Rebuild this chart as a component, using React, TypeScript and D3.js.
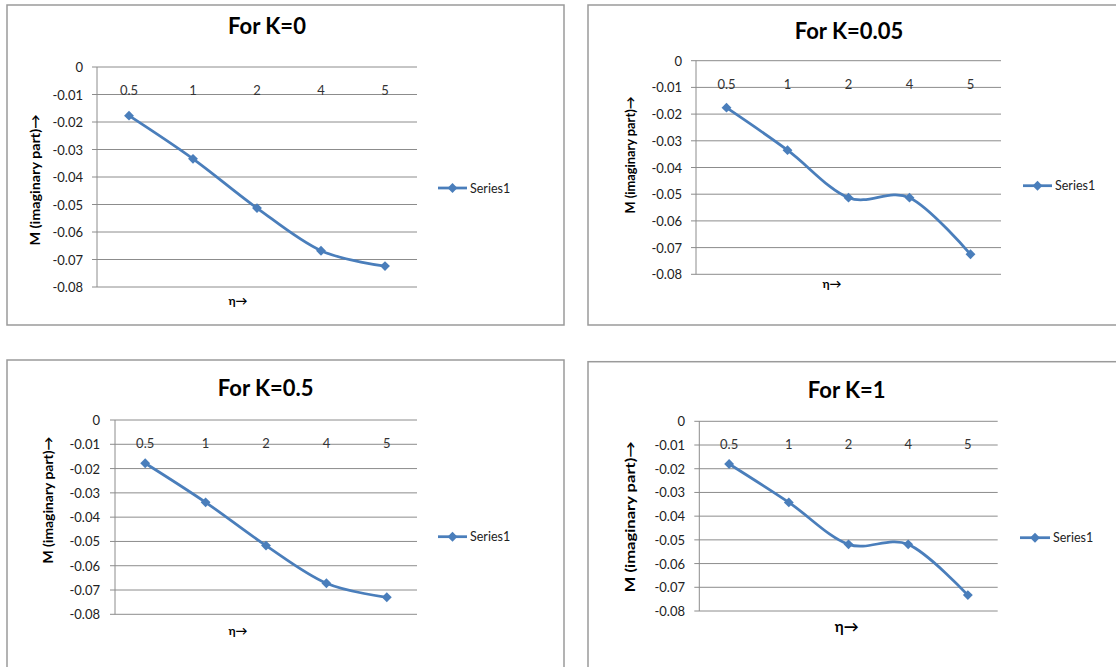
import React, { useRef, useEffect } from 'react';
import * as d3 from 'd3';

// eta categories on the x axis
const etaLabels = ['0.5', '1', '2', '4', '5'];
const yTicks = [0, -0.01, -0.02, -0.03, -0.04, -0.05, -0.06, -0.07, -0.08];

// M (imaginary part) for each K
const mK0 = [-0.0177, -0.0334, -0.0513, -0.0668, -0.0724];
const mK005 = [-0.0176, -0.0335, -0.0513, -0.0513, -0.0725];
const mK05 = [-0.0178, -0.0339, -0.0517, -0.0672, -0.073];
const mK1 = [-0.018, -0.0342, -0.0519, -0.0519, -0.0733];

const titles = ['For K=0', 'For K=0.05', 'For K=0.5', 'For K=1'];
const seriesName = 'Series1';

// panel layouts (frame, plot area, label anchors)
const panels = [
  { values: mK0, frame: [7, 5, 557, 320], plot: [97, 67, 417, 287], title: [267, 25],
    yl: [35, 180, 131], tickX: 83, xt: [238, 300, 12], legend: [438, 467, 188] },
  { values: mK005, frame: [588, 5, 540, 320], plot: [696, 60.7, 1001, 274.3], title: [849, 30.7],
    yl: [630, 155, 117], tickX: 682, xt: [832, 283, 12], legend: [1023, 1052, 185.7] },
  { values: mK05, frame: [7, 360, 557, 330], plot: [115, 420, 417, 614.3], title: [265.7, 387.7],
    yl: [48, 500, 127], tickX: 100, xt: [238, 630.7, 12], legend: [438, 467, 536.7] },
  { values: mK1, frame: [588, 361.7, 540, 330], plot: [699.3, 421.3, 997.7, 611], title: [846.7, 389.3],
    yl: [630, 516.7, 151], tickX: 685, xt: [846.7, 626, 15], legend: [1020, 1050, 537.7] },
];

const FONT = 'Lato, "Open Sans", sans-serif';
const BLUE = '#4a7ebb';

const App = () => {
  const ref = useRef<SVGSVGElement>(null);

  useEffect(() => {
    const svg = d3.select(ref.current).attr('width', 1116).attr('height', 667);
    svg.selectAll('*').remove();

    const diamond = d3.symbol().type(d3.symbolDiamond2).size(62);

    panels.forEach((p, i) => {
      const g = svg.append('g');
      const [fx, fy, fw, fh] = p.frame;
      g.append('rect')
        .attr('x', fx).attr('y', fy).attr('width', fw).attr('height', fh)
        .attr('fill', 'white').attr('stroke', '#9a9a9a').attr('stroke-width', 1.5);

      const [x0, y0, x1, y1] = p.plot;
      const x = d3.scaleBand().domain(etaLabels).range([x0, x1]);
      const y = d3.scaleLinear().domain([0, -0.08]).range([y0, y1]);

      // gridlines
      g.append('g')
        .selectAll('line')
        .data(yTicks)
        .enter().append('line')
        .attr('x1', x0 - 5).attr('x2', x1)
        .attr('y1', d => y(d)).attr('y2', d => y(d))
        .attr('stroke', '#8c8c8c').attr('stroke-width', 1);

      g.append('line')
        .attr('x1', x0).attr('x2', x0).attr('y1', y0).attr('y2', y1)
        .attr('stroke', '#8c8c8c');

      // y tick labels
      g.append('g')
        .selectAll('text')
        .data(yTicks)
        .enter().append('text')
        .attr('x', p.tickX).attr('y', d => y(d))
        .attr('text-anchor', 'end').attr('dominant-baseline', 'central')
        .attr('font-family', FONT).attr('font-size', 13).attr('fill', '#222')
        .text(d => (d === 0 ? '0' : d3.format('.2f')(d).replace('−', '-')));

      // category labels sit just below the zero line
      g.append('g')
        .selectAll('text')
        .data(etaLabels)
        .enter().append('text')
        .attr('x', d => (x(d) as number) + x.bandwidth() / 2)
        .attr('y', y0 + 23)
        .attr('text-anchor', 'middle').attr('dominant-baseline', 'central')
        .attr('font-family', FONT).attr('font-size', 13).attr('fill', '#333')
        .text(d => d);

      const pts = p.values.map((v, j) => [(x(etaLabels[j]) as number) + x.bandwidth() / 2, y(v)] as [number, number]);
      const line = d3.line().curve(d3.curveCardinal.tension(0));
      g.append('path')
        .attr('d', line(pts))
        .attr('fill', 'none').attr('stroke', BLUE).attr('stroke-width', 2.75);

      g.append('g')
        .selectAll('path')
        .data(pts)
        .enter().append('path')
        .attr('transform', d => `translate(${d[0]},${d[1]})`)
        .attr('d', diamond)
        .attr('fill', BLUE);

      // title
      g.append('text')
        .attr('x', p.title[0]).attr('y', p.title[1])
        .attr('text-anchor', 'middle').attr('dominant-baseline', 'central')
        .attr('font-family', FONT).attr('font-weight', 'bold').attr('font-size', 22).attr('fill', '#000')
        .text(titles[i]);

      // y axis title
      g.append('text')
        .attr('transform', `translate(${p.yl[0]},${p.yl[1]}) rotate(-90)`)
        .attr('text-anchor', 'middle').attr('dominant-baseline', 'central')
        .attr('font-family', FONT).attr('font-weight', 'bold').attr('font-size', 12.5)
        .attr('textLength', p.yl[2]).attr('lengthAdjust', 'spacingAndGlyphs')
        .text('M  (imaginary part)→');

      // x axis title
      g.append('text')
        .attr('x', p.xt[0]).attr('y', p.xt[1])
        .attr('text-anchor', 'middle').attr('dominant-baseline', 'central')
        .attr('font-family', FONT).attr('font-weight', 'bold').attr('font-size', p.xt[2])
        .text('η→');

      // legend
      const [lx0, lx1, ly] = p.legend;
      g.append('line')
        .attr('x1', lx0).attr('x2', lx1).attr('y1', ly).attr('y2', ly)
        .attr('stroke', BLUE).attr('stroke-width', 2.75);
      g.append('path')
        .attr('transform', `translate(${(lx0 + lx1) / 2},${ly})`)
        .attr('d', diamond).attr('fill', BLUE);
      g.append('text')
        .attr('x', lx1 + 3).attr('y', ly)
        .attr('dominant-baseline', 'central')
        .attr('font-family', FONT).attr('font-size', 12.5).attr('fill', '#222')
        .text(seriesName);
    });
  }, []);

  return <svg ref={ref} style={{ position: 'absolute', left: 0, top: 0 }}></svg>;
};

export default App;
